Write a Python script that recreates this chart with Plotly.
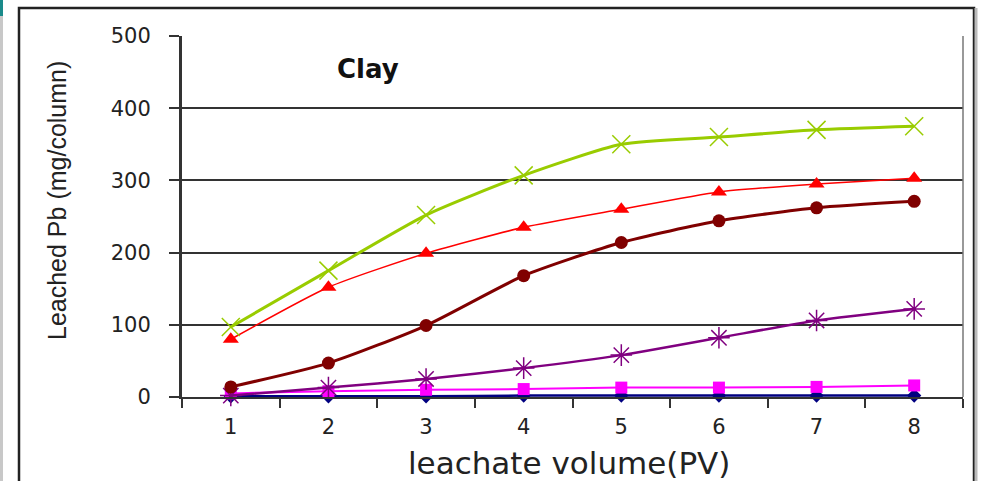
import plotly.graph_objects as go

# Pore volumes of leachate collected
pv = ["1", "2", "3", "4", "5", "6", "7", "8"]

# Cumulative leached Pb (mg/column) for each leaching solution
s_green = [97, 175, 252, 307, 350, 360, 370, 375]
s_red = [80, 152, 199, 235, 260, 284, 295, 303]
s_maroon = [14, 47, 99, 168, 214, 244, 262, 271]
s_purple = [2, 13, 25, 40, 58, 82, 106, 122]
s_magenta = [5, 8, 10, 11, 13, 13, 14, 16]
s_navy = [1, 1, 1, 2, 2, 2, 2, 2]

W, H = 981, 481
ML, MR, MT, MB = 182, 18, 36, 84

series = [
    (s_navy, "#000080", 2.5, "diamond", 11, None),
    (s_magenta, "#FF00FF", 2, "square", 12, None),
    (s_purple, "#800080", 2.5, "asterisk-open", 18, 1.5),
    (s_maroon, "#800000", 3, "circle", 13, None),
    (s_red, "#FF0000", 1.5, "triangle-up", 14, None),
    (s_green, "#99CC00", 3, "x-thin-open", 18, 1.5),
]

fig = go.Figure()
for ys, col, lw, sym, ms, mlw in series:
    marker = dict(symbol=sym, size=ms, color=col)
    if mlw:
        marker["line"] = dict(color=col, width=mlw)
    fig.add_trace(go.Scatter(
        x=pv, y=ys, mode="lines+markers",
        line=dict(color=col, width=lw, shape="spline", smoothing=0.6),
        marker=marker, showlegend=False, cliponaxis=False,
    ))

pw = W - ML - MR
ph = H - MT - MB


def px_x(p):
    return (p - ML) / pw


def px_y(p):
    return (H - MB - p) / ph


tick_font = dict(size=21, family="DejaVu Sans, sans-serif", color="#222222")

fig.update_layout(
    width=W, height=H,
    margin=dict(l=ML, r=MR, t=MT, b=MB),
    paper_bgcolor="white", plot_bgcolor="white",
    font=dict(family="Liberation Sans, Arial, sans-serif", color="#222222"),
    xaxis=dict(
        type="category", tickson="boundaries", range=[-0.5, 7.5],
        showgrid=False, showline=True, linecolor="#333333", linewidth=2,
        ticks="outside", ticklen=9, tickcolor="#333333", tickwidth=2,
        tickfont=tick_font, ticklabelstandoff=10,
    ),
    yaxis=dict(
        range=[0, 500], dtick=100, showgrid=True, gridcolor="#333333", gridwidth=1.6,
        showline=True, linecolor="#333333", linewidth=3, zeroline=False,
        ticks="outside", ticklen=10, tickcolor="#333333", tickwidth=2,
        tickfont=tick_font, ticklabelstandoff=14,
    ),
    annotations=[
        dict(text="<b>Clay</b>", x=px_x(335), y=px_y(69), xref="paper", yref="paper",
             xanchor="left", yanchor="middle", showarrow=False,
             font=dict(size=26, family="DejaVu Sans, sans-serif", color="#111111")),
        dict(text="leachate volume(PV)", x=px_x(569), y=px_y(463),
             xref="paper", yref="paper", xanchor="center", yanchor="middle",
             showarrow=False,
             font=dict(size=31, family="DejaVu Sans, sans-serif", color="#222222")),
        dict(text="Leached Pb (mg/column)", x=px_x(57), y=px_y(201),
             xref="paper", yref="paper", xanchor="center", yanchor="middle",
             textangle=-90, showarrow=False,
             font=dict(size=25, color="#222222")),
    ],
    shapes=[
        # right edge of the plotting area
        dict(type="line", xref="paper", yref="paper", x0=1, x1=1, y0=0, y1=1,
             line=dict(color="#777777", width=1.5)),
        # outer chart frame
        dict(type="rect", xref="paper", yref="paper",
             x0=px_x(19), x1=px_x(974), y0=px_y(490), y1=px_y(8),
             line=dict(color="#222222", width=2.5)),
        dict(type="line", xref="paper", yref="paper",
             x0=px_x(976), x1=px_x(976), y0=px_y(490), y1=px_y(8),
             line=dict(color="#BBBBBB", width=3)),
        # left margin strip
        dict(type="line", xref="paper", yref="paper",
             x0=px_x(1.5), x1=px_x(1.5), y0=px_y(490), y1=px_y(16),
             line=dict(color="#C8C8C8", width=3)),
        dict(type="line", xref="paper", yref="paper",
             x0=px_x(1.5), x1=px_x(1.5), y0=px_y(16), y1=px_y(0),
             line=dict(color="#1A8A8A", width=3)),
    ],
)

fig.write_html("out.html")
